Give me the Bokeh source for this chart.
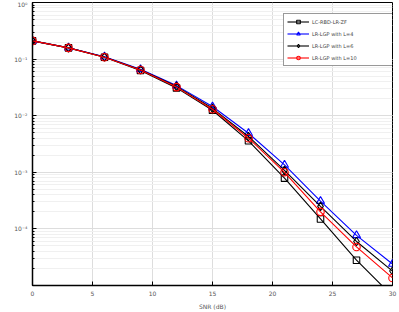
from bokeh.plotting import figure
from bokeh.models import Legend, LegendItem, Range1d, FixedTicker, LogTicker
from bokeh.embed import file_html
from bokeh.resources import INLINE

snr = [0, 3, 6, 9, 12, 15, 18, 21, 24, 27, 30]
zf = [0.21, 0.158, 0.108, 0.063, 0.031, 0.0125, 0.0036, 7.9e-4, 1.5e-4, 2.8e-5, 6.5e-6]
l4 = [0.21, 0.159, 0.110, 0.066, 0.034, 0.0145, 0.0049, 1.35e-3, 3.1e-4, 7.7e-5, 2.4e-5]
l6 = [0.21, 0.158, 0.109, 0.065, 0.033, 0.0135, 0.0043, 1.08e-3, 2.5e-4, 6.0e-5, 1.8e-5]
l10 = [0.21, 0.158, 0.108, 0.064, 0.032, 0.0130, 0.0040, 1.0e-3, 2.0e-4, 4.8e-5, 1.36e-5]
names = ["LC-RBD-LR-ZF", "LR-LGP with L=4", "LR-LGP with L=6", "LR-LGP with L=10"]
x_ticks = [0, 5, 10, 15, 20, 25, 30]
y_labels = {1: "10\u2070", 0.1: "10\u207b\u00b9", 0.01: "10\u207b\u00b2", 0.001: "10\u207b\u00b3",
            0.0001: "10\u207b\u2074", 1e-5: ""}

FONT = "DejaVu Sans"

p = figure(width=399, height=312, output_backend="svg", toolbar_location=None,
           y_axis_type="log", x_range=Range1d(0, 30), y_range=Range1d(1e-5, 1),
           min_border_left=32, min_border_right=7, min_border_top=2, min_border_bottom=21)
p.outline_line_color = "black"
p.outline_line_width = 1

for ax in (p.xaxis[0], p.yaxis[0]):
    ax.major_tick_in = 4
    ax.major_tick_out = 0
    ax.minor_tick_in = 2
    ax.minor_tick_out = 0
    ax.axis_line_color = "black"
    ax.axis_line_width = 1.5
    ax.major_label_text_font = FONT
    ax.major_label_text_font_size = "6px"
    ax.major_label_text_color = "#555555"
    ax.major_label_standoff = 5

p.xaxis.ticker = FixedTicker(ticks=x_ticks)
p.xaxis.minor_tick_line_color = None
p.xaxis.axis_label = "SNR (dB)"
p.xaxis.axis_label_text_font = FONT
p.xaxis.axis_label_text_font_size = "6px"
p.xaxis.axis_label_text_font_style = "normal"
p.xaxis.axis_label_text_color = "#555555"
p.xaxis.axis_label_standoff = 4

p.yaxis.ticker = LogTicker(num_minor_ticks=10)
p.yaxis.major_label_overrides = y_labels

p.xgrid.ticker = FixedTicker(ticks=x_ticks)
p.xgrid.grid_line_color = "#dddddd"
p.ygrid.grid_line_color = "#dddddd"
p.ygrid.minor_grid_line_color = "#f0f0f0"

items = []
specs = [(zf, "black", "square", 6.5), (l4, "blue", "triangle", 8),
         (l6, "black", "diamond", 8.5), (l10, "red", "circle", 7.5)]
for (ys, col, mk, sz), nm in zip(specs, names):
    ln = p.line(snr, ys, line_color=col, line_width=1.1)
    sc = p.scatter(snr, ys, marker=mk, size=sz, line_color=col,
                   fill_color=None, line_width=1.1)
    items.append(LegendItem(label=nm, renderers=[ln, sc]))

leg = Legend(items=items, location=(251, 219), label_text_font=FONT, label_text_font_size="5px",
             label_height=9, glyph_height=9, glyph_width=22, spacing=3, padding=3, margin=0,
             label_width=80, border_line_color="#333333", border_line_width=1,
             background_fill_alpha=1, label_standoff=3)
p.add_layout(leg)

open("out.html", "w").write(file_html(p, INLINE))
